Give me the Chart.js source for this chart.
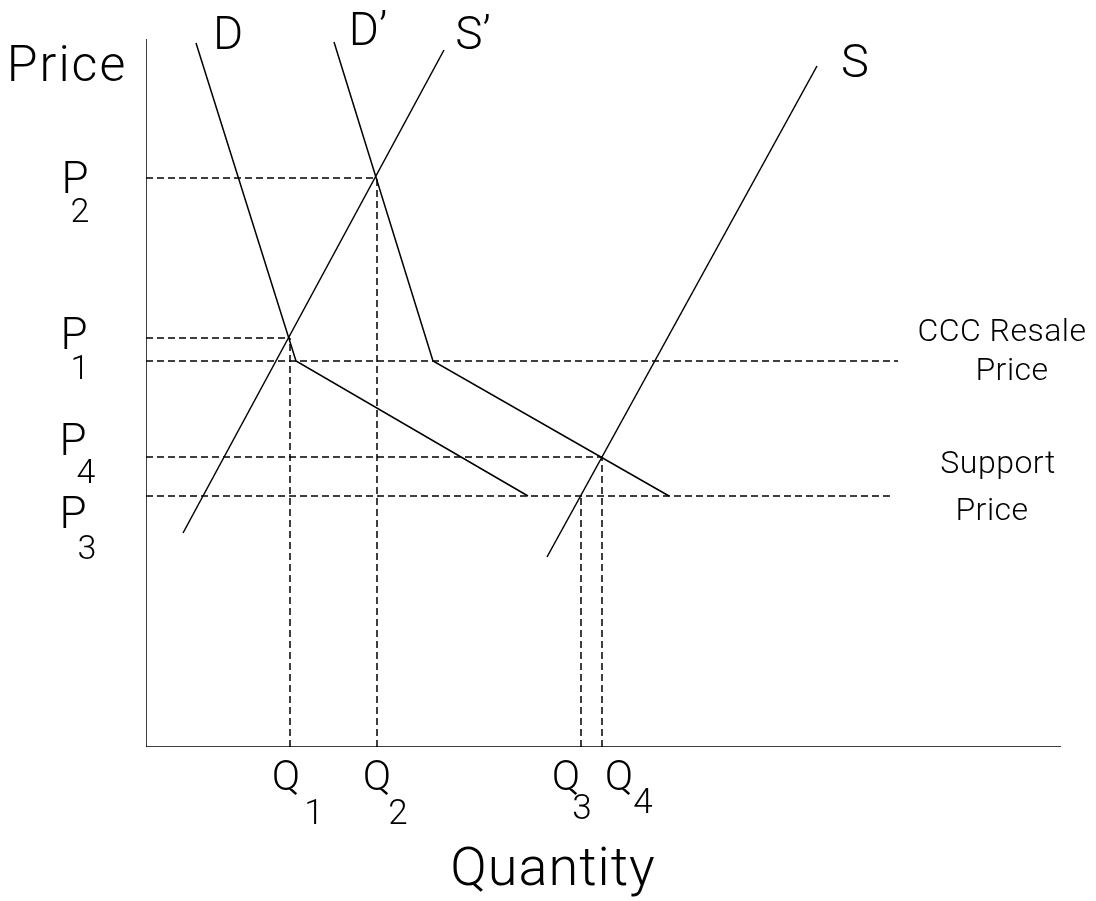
<!DOCTYPE html>
<html>
<head>
<meta charset="utf-8">
<title>Price support and CCC resale price</title>
<script src="https://cdn.jsdelivr.net/npm/chart.js@4.4.1/dist/chart.umd.min.js"></script>
<style>
  html, body { margin: 0; padding: 0; background: #fff; }
  #wrap { width: 1096px; height: 901px; }
</style>
</head>
<body>
<div id="wrap"><canvas id="chart"></canvas></div>
<script>
// quantity / price units, origin at the axis corner
const axisMaxQ = 915;
const axisMaxP = 708;

// demand curves kink at the CCC resale price and stop at the support price
const dQ = [50, 150, 382];
const dP = [704, 386, 251];
const d2Q = [188, 287, 523];
const d2P = [705, 386, 251];
// supply curves
const s2Q = [37, 298];
const s2P = [214, 697];
const sQ = [401, 671];
const sP = [190, 681];

// price levels
const p2 = 569, p1 = 409, cccPrice = 386, p4 = 290, supportPrice = 251;
// quantity levels
const q1 = 144, q2 = 231, q3 = 435, q4 = 456;
// where the two policy lines stop
const cccEnd = 752, supportEnd = 744;

// text on the figure
const labels = [
  { t: "Price", q: -79, p: 679, size: 50, sp: 2 },
  { t: "D", q: 82, p: 710, size: 46 },
  { t: "D’", q: 222, p: 714, size: 46 },
  { t: "S’", q: 327, p: 710, size: 46 },
  { t: "S", q: 709, p: 682, size: 47 },
  { t: "P", q: -71, p: 565, size: 44 },
  { t: "2", q: -66, p: 534, size: 34 },
  { t: "P", q: -72, p: 409, size: 44 },
  { t: "1", q: -66, p: 377, size: 34 },
  { t: "P", q: -73, p: 303, size: 44 },
  { t: "4", q: -60, p: 273, size: 34 },
  { t: "P", q: -73, p: 230, size: 44 },
  { t: "3", q: -59, p: 197, size: 34 },
  { t: "Q", q: 140, p: -32, size: 42 },
  { t: "1", q: 168, p: -68, size: 35 },
  { t: "Q", q: 231, p: -32, size: 42 },
  { t: "2", q: 252, p: -68, size: 35 },
  { t: "Q", q: 420, p: -32, size: 42 },
  { t: "3", q: 436, p: -63, size: 35 },
  { t: "Q", q: 473, p: -32, size: 42 },
  { t: "4", q: 497, p: -57, size: 35 },
  { t: "Quantity", q: 407, p: -124, size: 54, sp: 1 },
  { t: "CCC Resale", q: 856, p: 414, size: 32, sp: 0.5 },
  { t: "Price", q: 866, p: 375, size: 32, sp: 0.5 },
  { t: "Support", q: 852, p: 282, size: 32, sp: 0.5 },
  { t: "Price", q: 846, p: 235, size: 32, sp: 0.5 }
];

function pts(xs, ys) {
  return xs.map((x, i) => ({ x: x, y: ys[i] }));
}

function solid(data) {
  return { data: data, borderColor: "#000", borderWidth: 1.5, pointRadius: 0, fill: false, tension: 0 };
}

function dashed(data) {
  return { data: data, borderColor: "#000", borderWidth: 1.5, borderDash: [7, 4], pointRadius: 0, fill: false, tension: 0 };
}

const datasets = [
  // axes
  solid([{ x: 0, y: axisMaxP }, { x: 0, y: 0 }, { x: axisMaxQ, y: 0 }]),
  // curves
  solid(pts(dQ, dP)),
  solid(pts(d2Q, d2P)),
  solid(pts(s2Q, s2P)),
  solid(pts(sQ, sP)),
  // horizontal guides
  dashed([{ x: 0, y: p2 }, { x: q2, y: p2 }]),
  dashed([{ x: 0, y: p1 }, { x: q1, y: p1 }]),
  dashed([{ x: 0, y: cccPrice }, { x: cccEnd, y: cccPrice }]),
  dashed([{ x: 0, y: p4 }, { x: q4, y: p4 }]),
  dashed([{ x: 0, y: supportPrice }, { x: supportEnd, y: supportPrice }]),
  // vertical guides
  dashed([{ x: q1, y: 0 }, { x: q1, y: p1 }]),
  dashed([{ x: q2, y: 0 }, { x: q2, y: p2 }]),
  dashed([{ x: q3, y: 0 }, { x: q3, y: supportPrice }]),
  dashed([{ x: q4, y: 0 }, { x: q4, y: p4 }])
];

// draws the letters at value positions
const textPlugin = {
  id: "figureText",
  afterDatasetsDraw(chart) {
    const ctx = chart.ctx;
    const xs = chart.scales.x, ys = chart.scales.y;
    ctx.save();
    ctx.fillStyle = "#000";
    ctx.textAlign = "center";
    ctx.textBaseline = "middle";
    labels.forEach(l => {
      ctx.font = "300 " + l.size + "px Roboto, 'DejaVu Sans', sans-serif";
      ctx.letterSpacing = (l.sp || 0) + "px";
      ctx.fillText(l.t, xs.getPixelForValue(l.q), ys.getPixelForValue(l.p));
    });
    ctx.restore();
  }
};

new Chart(document.getElementById("chart"), {
  type: "line",
  data: { datasets: datasets },
  options: {
    responsive: true,
    maintainAspectRatio: false,
    animation: false,
    layout: { padding: { left: 146, right: 35, top: 39, bottom: 154 } },
    plugins: { legend: { display: false }, tooltip: { enabled: false } },
    scales: {
      x: { type: "linear", min: 0, max: axisMaxQ, display: false },
      y: { type: "linear", min: 0, max: axisMaxP, display: false }
    }
  },
  plugins: [textPlugin]
});
</script>
</body>
</html>
